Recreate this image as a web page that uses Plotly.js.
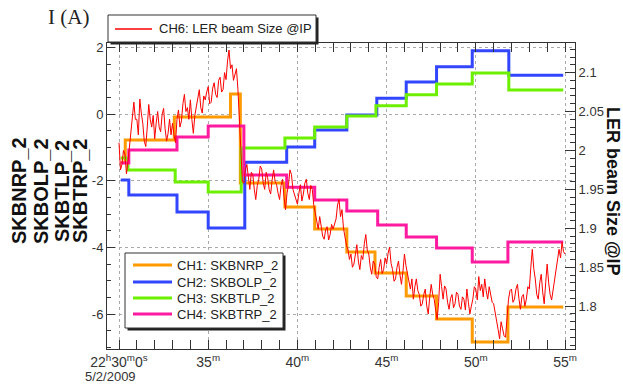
<!DOCTYPE html>
<html><head><meta charset="utf-8">
<script src="https://cdn.plot.ly/plotly-3.0.1.min.js"></script>
<style>html,body{margin:0;padding:0;background:#fff}#chart{width:623px;height:385px}</style>
</head><body><div id="chart"></div>
<script>
// times are minutes after 2009-05-02 22:30:00
const ch1Times = [0.1, 0.35, 3.1, 6.25, 6.8, 9.3, 10.97, 12.77, 14.35, 16.1, 17.8, 19.8, 21.8, 24.9];
const ch1Vals  = [-1.45, -0.78, -0.09, 0.6, -2.07, -2.79, -3.45, -4.14, -4.77, -5.46, -6.15, -6.84, -5.79, -5.79];
const ch2Times = [0.1, 0.55, 3.25, 5.0, 7.05, 9.4, 10.97, 12.77, 14.45, 16.1, 17.8, 19.8, 21.85, 24.9];
const ch2Vals  = [-1.98, -2.43, -2.94, -3.42, -1.45, -0.99, -0.48, -0.03, 0.47, 0.96, 1.42, 1.9, 1.16, 1.16];
const ch3Times = [0.1, 0.5, 3.15, 5.0, 6.85, 9.3, 10.97, 12.77, 14.4, 16.1, 17.8, 19.8, 21.85, 24.9];
const ch3Vals  = [-1.32, -1.68, -2.04, -2.34, -1.02, -0.72, -0.39, -0.06, 0.25, 0.58, 0.9, 1.23, 0.72, 0.72];
const ch4Times = [0.1, 0.55, 3.25, 5.0, 7.0, 9.4, 10.97, 12.77, 14.5, 16.1, 17.8, 19.8, 21.8, 24.9];
const ch4Vals  = [-1.47, -1.08, -0.69, -0.36, -1.83, -2.2, -2.58, -2.91, -3.33, -3.69, -4.02, -4.44, -3.84, -3.84];

// CH6 LER beam size, sampled every 5 s from 22:30:00 (one row per minute)
const redStartMin = 0.0;
const redStepSec = 5;
const redVals = [
 2.010, 1.975, 1.982, 2.000, 1.995, 1.970, 1.985, 2.005, 2.030, 2.045, 2.062, 2.040,
 2.040, 2.020, 2.066, 2.048, 2.035, 2.012, 2.005, 2.030, 2.059, 2.040, 2.030, 2.045,
 2.015, 2.035, 2.050, 2.030, 2.024, 2.046, 2.054, 2.028, 2.012, 2.022, 2.040, 2.020,
 2.035, 2.020, 2.010, 2.040, 2.052, 2.030, 2.038, 2.060, 2.072, 2.050, 2.055, 2.040,
 2.065, 2.040, 2.022, 2.045, 2.056, 2.070, 2.078, 2.055, 2.048, 2.070, 2.065, 2.075,
 2.082, 2.060, 2.062, 2.080, 2.087, 2.072, 2.068, 2.090, 2.094, 2.075, 2.078, 2.100,
 2.091, 2.115, 2.129, 2.105, 2.110, 2.090, 2.097, 2.105, 2.078, 2.040, 1.988, 1.960,
 1.958, 1.975, 1.982, 1.962, 1.950, 1.972, 1.969, 1.950, 1.937, 1.955, 1.963, 1.980,
 1.976, 1.958, 1.950, 1.972, 1.965, 1.950, 1.944, 1.962, 1.975, 1.960, 1.956, 1.945,
 1.937, 1.955, 1.963, 1.940, 1.924, 1.945, 1.956, 1.975, 1.969, 1.950, 1.944, 1.935,
 1.931, 1.945, 1.956, 1.935, 1.944, 1.958, 1.963, 1.945, 1.937, 1.955, 1.950, 1.930,
 1.918, 1.905, 1.899, 1.915, 1.905, 1.890, 1.886, 1.898, 1.902, 1.885, 1.892, 1.905,
 1.899, 1.905, 1.912, 1.930, 1.937, 1.915, 1.924, 1.900, 1.886, 1.878, 1.873, 1.860,
 1.867, 1.850, 1.854, 1.870, 1.879, 1.858, 1.847, 1.865, 1.860, 1.880, 1.892, 1.872,
 1.867, 1.850, 1.841, 1.858, 1.854, 1.838, 1.835, 1.850, 1.860, 1.842, 1.847, 1.862,
 1.854, 1.868, 1.876, 1.855, 1.847, 1.832, 1.835, 1.850, 1.858, 1.840, 1.828, 1.845,
 1.867, 1.852, 1.841, 1.830, 1.822, 1.835, 1.809, 1.825, 1.835, 1.820, 1.815, 1.800,
 1.803, 1.815, 1.822, 1.800, 1.790, 1.812, 1.828, 1.815, 1.809, 1.795, 1.783, 1.805,
 1.841, 1.825, 1.809, 1.826, 1.822, 1.805, 1.796, 1.810, 1.815, 1.798, 1.803, 1.818,
 1.815, 1.800, 1.796, 1.812, 1.809, 1.795, 1.822, 1.805, 1.790, 1.800, 1.809, 1.825,
 1.822, 1.808, 1.838, 1.820, 1.828, 1.812, 1.835, 1.820, 1.809, 1.825, 1.815, 1.805,
 1.803, 1.790, 1.783, 1.770, 1.758, 1.780, 1.771, 1.762, 1.760, 1.790, 1.809, 1.820,
 1.822, 1.805, 1.809, 1.822, 1.828, 1.810, 1.796, 1.812, 1.815, 1.800, 1.809, 1.825,
 1.822, 1.850, 1.873, 1.848, 1.835, 1.815, 1.809, 1.830, 1.841, 1.818, 1.803, 1.830,
 1.854, 1.830, 1.815, 1.808, 1.822, 1.838, 1.847, 1.860, 1.873, 1.862, 1.882, 1.870,
 1.867
];

const xTickMin = [0, 5, 10, 15, 20, 25];
const xTickText = ['22<sup>h</sup>30<sup>m</sup>0<sup>s</sup>', '35<sup>m</sup>', '40<sup>m</sup>', '45<sup>m</sup>', '50<sup>m</sup>', '55<sup>m</sup>'];
const yTickVals = [-6, -4, -2, 0, 2];
const yTickText = ['-6', '-4', '-2', '0', '2'];
const y2TickVals = [1.8, 1.85, 1.9, 1.95, 2, 2.05, 2.1];
const y2TickText = ['1.8', '1.85', '1.9', '1.95', '2', '2.05', '2.1'];
const legendNames = ['CH1: SKBNRP_2', 'CH2: SKBOLP_2', 'CH3: SKBTLP_2', 'CH4: SKBTRP_2'];
const redName = 'CH6: LER beam Size @IP';
const leftTitles = ['SKBNRP_2', 'SKBOLP_2', 'SKBTLP_2', 'SKBTRP_2'];
const colors = ['#ff9a00', '#3246ff', '#6cf000', '#ff1aa0'];

const t0 = Date.UTC(2009, 4, 2, 22, 30, 0);
function toDate(m) { return new Date(t0 + Math.round(m * 60000)).toISOString().replace('T', ' ').replace('Z', ''); }

const chTimes = [ch1Times, ch2Times, ch3Times, ch4Times];
const chVals = [ch1Vals, ch2Vals, ch3Vals, ch4Vals];
const traces = chTimes.map((tt, i) => ({
  x: tt.map(toDate), y: chVals[i], type: 'scatter', mode: 'lines', name: legendNames[i],
  line: {shape: 'hv', color: colors[i], width: 3}, yaxis: 'y', hoverinfo: 'skip'
}));
traces.push({
  x: redVals.map((v, i) => toDate(redStartMin + i * redStepSec / 60)), y: redVals,
  type: 'scatter', mode: 'lines', name: redName, yaxis: 'y2',
  line: {color: '#ff0000', width: 1}, hoverinfo: 'skip'
});

const L = 107, R = 575, T = 43, B = 349;
const px = x => (x - L) / (R - L);
const py = y => (B - y) / (B - T);
const SANS = 'Liberation Sans, Arial, sans-serif';

const annotations = [];
function ann(text, x, y, opts) {
  annotations.push(Object.assign({text: text, x: px(x), y: py(y), xref: 'paper', yref: 'paper',
    showarrow: false, xanchor: 'center', yanchor: 'middle', font: {family: SANS, size: 13, color: '#333'}}, opts || {}));
}
ann('I (A)', 68, 17, {font: {family: 'Liberation Serif, Times New Roman, serif', size: 21, color: '#222'}});
const ltX = [19, 41, 62, 80];
leftTitles.forEach((t, i) => ann('<b>' + t + '</b>', ltX[i], 191, {textangle: -90, font: {family: SANS, size: 20, color: '#111'}}));
ann('<b>LER beam Size @IP</b>', 613, 191, {textangle: 90, font: {family: SANS, size: 18, color: '#111'}});
ann('5/2/2009', 110, 376, {font: {family: SANS, size: 13, color: '#333'}});
ann(redName, 157, 29, {xanchor: 'left', font: {family: SANS, size: 13, color: '#222'}});
const legY = [265, 282, 298, 314];
legendNames.forEach((n, i) => ann(n, 175, legY[i], {xanchor: 'left', font: {family: SANS, size: 13, color: '#222'}}));

const shapes = [];
function rect(x0, y0, x1, y1, fill, lineColor, lw) {
  shapes.push({type: 'rect', xref: 'paper', yref: 'paper', x0: px(x0), x1: px(x1), y0: py(y1), y1: py(y0),
    fillcolor: fill, line: {color: lineColor, width: lw}, layer: 'above'});
}
function seg(x0, x1, y, color, w) {
  shapes.push({type: 'line', xref: 'paper', yref: 'paper', x0: px(x0), x1: px(x1), y0: py(y), y1: py(y),
    line: {color: color, width: w}, layer: 'above'});
}
rect(110.5, 17.5, 318.5, 44.5, '#222', '#222', 0);
rect(108, 15, 316, 42, '#fff', '#333', 1);
seg(115, 152, 29, '#ff0000', 1.5);
rect(127.5, 255.5, 285.5, 330.5, '#222', '#222', 0);
rect(125, 253, 283, 328, '#fff', '#333', 1);
legY.forEach((y, i) => seg(133, 172, y, colors[i], 3));

const layout = {
  width: 623, height: 385, margin: {l: L, r: 623 - R, t: T, b: 385 - B, pad: 0},
  paper_bgcolor: '#fff', plot_bgcolor: '#fff', showlegend: false,
  font: {family: SANS, size: 13, color: '#333'},
  xaxis: {type: 'date', range: [toDate(-0.673), toDate(25.56)],
    tickmode: 'array', tickvals: xTickMin.map(toDate), ticktext: xTickText,
    ticks: 'inside', ticklen: 9, tickcolor: '#333', tickwidth: 1,
    minor: {dtick: 60000, tick0: toDate(0), ticks: 'inside', ticklen: 5, tickcolor: '#333', showgrid: false},
    showgrid: true, gridcolor: '#aaaaaa', griddash: 'dot', gridwidth: 1,
    showline: true, linecolor: '#333', linewidth: 1, mirror: 'allticks', zeroline: false,
    tickfont: {family: SANS, size: 14, color: '#333'}, fixedrange: true},
  yaxis: {range: [-7.05, 2.13], tickmode: 'array', tickvals: yTickVals, ticktext: yTickText,
    ticks: 'inside', ticklen: 8, tickcolor: '#333',
    minor: {tickmode: 'linear', tick0: 0, dtick: 0.5, ticks: 'inside', ticklen: 4, tickcolor: '#333', showgrid: false},
    showgrid: true, gridcolor: '#aaaaaa', griddash: 'dot', gridwidth: 1,
    showline: true, linecolor: '#333', linewidth: 1, zeroline: false,
    tickfont: {family: SANS, size: 13, color: '#333'}, fixedrange: true},
  yaxis2: {overlaying: 'y', side: 'right', range: [1.745, 2.138], tickmode: 'array', tickvals: y2TickVals, ticktext: y2TickText,
    ticks: 'inside', ticklen: 10, tickcolor: '#333',
    minor: {tickmode: 'linear', tick0: 0, dtick: 0.01, ticks: 'inside', ticklen: 5, tickcolor: '#333', showgrid: false},
    showgrid: false, showline: true, linecolor: '#333', linewidth: 1, zeroline: false,
    tickfont: {family: SANS, size: 13, color: '#333'}, fixedrange: true},
  annotations: annotations, shapes: shapes
};
Plotly.newPlot('chart', traces, layout, {staticPlot: true, displayModeBar: false});
</script></body></html>
